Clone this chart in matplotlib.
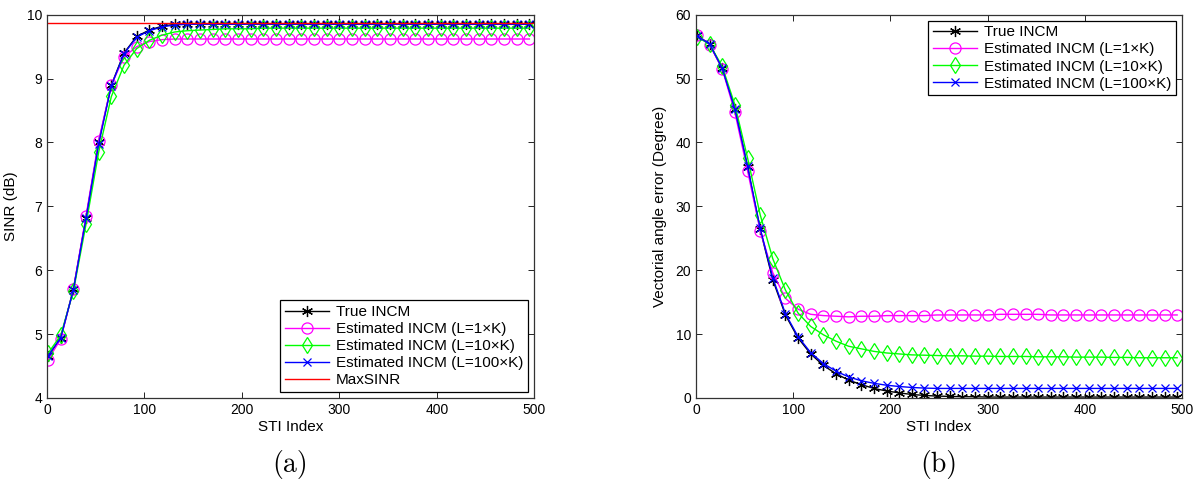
import matplotlib
matplotlib.use("Agg")
import matplotlib.pyplot as plt

plt.rcParams["font.family"] = ["Liberation Sans", "DejaVu Sans"]

# STI index of the plotted points (every 13th snapshot)
sti = [1, 14, 27, 40, 53, 66, 79, 92, 105, 118, 131, 144, 157, 170, 183, 196, 209,
       222, 235, 248, 261, 274, 287, 300, 313, 326, 339, 352, 365, 378, 391, 404,
       417, 430, 443, 456, 469, 482, 495]

# ---- (a) SINR (dB) ----
sinr_true = [4.65, 4.94, 5.70, 6.82, 8.00, 8.90, 9.40, 9.66, 9.76, 9.82, 9.85, 9.86, 9.86,
             9.86, 9.86, 9.86, 9.86, 9.86, 9.86, 9.86, 9.86, 9.86, 9.86, 9.86, 9.86, 9.86,
             9.86, 9.86, 9.86, 9.86, 9.86, 9.86, 9.86, 9.86, 9.86, 9.86, 9.86, 9.86, 9.86]
sinr_l1 = [4.60, 4.92, 5.70, 6.85, 8.03, 8.90, 9.34, 9.50, 9.58, 9.61, 9.62, 9.62, 9.62,
           9.62, 9.62, 9.62, 9.62, 9.62, 9.62, 9.62, 9.62, 9.62, 9.62, 9.62, 9.62, 9.62,
           9.62, 9.62, 9.62, 9.62, 9.62, 9.62, 9.62, 9.62, 9.62, 9.62, 9.62, 9.62, 9.62]
sinr_l10 = [4.70, 4.98, 5.67, 6.72, 7.85, 8.72, 9.21, 9.47, 9.60, 9.68, 9.73, 9.75, 9.76,
            9.77, 9.78, 9.78, 9.78, 9.79, 9.79, 9.79, 9.79, 9.79, 9.79, 9.79, 9.79, 9.79,
            9.79, 9.79, 9.79, 9.79, 9.79, 9.79, 9.79, 9.79, 9.79, 9.79, 9.79, 9.79, 9.79]
sinr_l100 = [4.66, 4.94, 5.69, 6.81, 7.98, 8.89, 9.39, 9.65, 9.75, 9.81, 9.84, 9.85, 9.85,
             9.85, 9.85, 9.85, 9.85, 9.85, 9.85, 9.85, 9.85, 9.85, 9.85, 9.85, 9.85, 9.85,
             9.85, 9.85, 9.85, 9.85, 9.85, 9.85, 9.85, 9.85, 9.85, 9.85, 9.85, 9.85, 9.85]
max_sinr = 9.875

# ---- (b) vectorial angle error (degree) ----
ang_true = [56.8, 55.4, 51.6, 45.3, 36.2, 26.4, 18.5, 13.0, 9.4, 6.9, 5.1, 3.8, 2.8,
            2.1, 1.5, 1.1, 0.8, 0.55, 0.4, 0.3, 0.25, 0.2, 0.2, 0.15, 0.15, 0.15, 0.15,
            0.15, 0.15, 0.15, 0.15, 0.15, 0.15, 0.15, 0.15, 0.15, 0.15, 0.15, 0.15]
ang_l1 = [56.8, 55.3, 51.5, 44.7, 35.6, 26.2, 19.6, 15.6, 13.9, 13.1, 12.9, 12.8, 12.7,
          12.8, 12.8, 12.9, 12.9, 12.9, 12.9, 13.0, 13.0, 13.0, 13.0, 13.0, 13.1, 13.1,
          13.1, 13.1, 13.0, 13.0, 13.0, 13.0, 13.0, 13.0, 13.0, 13.0, 13.0, 13.0, 13.0]
ang_l10 = [56.5, 55.4, 51.9, 45.9, 37.6, 28.7, 21.8, 16.9, 13.3, 11.2, 9.9, 8.9, 8.1,
           7.7, 7.3, 7.05, 6.9, 6.75, 6.7, 6.65, 6.6, 6.6, 6.55, 6.55, 6.5, 6.5, 6.5,
           6.45, 6.45, 6.45, 6.4, 6.4, 6.4, 6.35, 6.35, 6.3, 6.3, 6.3, 6.3]
ang_l100 = [56.7, 55.4, 51.6, 45.2, 36.3, 26.6, 18.8, 13.2, 9.6, 7.1, 5.4, 4.2, 3.3,
            2.7, 2.3, 2.0, 1.8, 1.65, 1.55, 1.5, 1.5, 1.5, 1.5, 1.5, 1.5, 1.5, 1.5, 1.5,
            1.5, 1.5, 1.5, 1.5, 1.5, 1.5, 1.5, 1.5, 1.5, 1.5, 1.5]

LABELS = ["True INCM", "Estimated INCM (L=1\u00d7K)", "Estimated INCM (L=10\u00d7K)",
          "Estimated INCM (L=100\u00d7K)"]
# matlab-ish markers: asterisk, open circle, open diamond, cross
STYLE = [dict(color="k", marker=(6, 2, 0), ms=8),
         dict(color="#ff00ff", marker="o", ms=8, mfc="none"),
         dict(color="#00ff00", marker="d", ms=8, mfc="none"),
         dict(color="#0000ff", marker="x", ms=5.5)]


def setup(ax, ylim, yticks, ylabel):
    ax.set_xlim(0, 500); ax.set_ylim(*ylim)
    ax.set_xticks([0, 100, 200, 300, 400, 500]); ax.set_yticks(yticks)
    ax.tick_params(direction="in", top=True, right=True, labelsize=10, length=4, width=0.6)
    for s in ax.spines.values():
        s.set_linewidth(0.9); s.set_color("#333333")
    ax.set_xlabel("STI Index", fontsize=11, labelpad=2)
    ax.set_ylabel(ylabel, fontsize=11, labelpad=6)


def legend(ax, loc):
    lg = ax.legend(loc=loc, fontsize=11, numpoints=1, fancybox=False, edgecolor="k",
                   framealpha=1, borderaxespad=0.4, handlelength=2.9, handletextpad=0.45,
                   labelspacing=0.2, borderpad=0.3)
    lg.get_frame().set_linewidth(0.9)
    return lg


fig = plt.figure(figsize=(12, 5.01), dpi=100)
axa = fig.add_axes([0.0392, 0.2056, 0.406, 0.765])
axb = fig.add_axes([0.58, 0.2056, 0.405, 0.765])

for ys, lab, st in zip([sinr_true, sinr_l1, sinr_l10, sinr_l100], LABELS, STYLE):
    axa.plot(sti, ys, lw=1.0, label=lab, mew=0.9, **st)
axa.axhline(max_sinr, color="#ff0000", lw=1.0, label="MaxSINR")
setup(axa, (4, 10), [4, 5, 6, 7, 8, 9, 10], "SINR (dB)")
legend(axa, "lower right")

for ys, lab, st in zip([ang_true, ang_l1, ang_l10, ang_l100], LABELS, STYLE):
    axb.plot(sti, ys, lw=1.0, label=lab, mew=0.9, **st)
setup(axb, (0, 60), [0, 10, 20, 30, 40, 50, 60], "Vectorial angle error (Degree)")
legend(axb, "upper right")

fig.text(0.2417, 0.072, "(a)", fontname="cmr10", fontsize=20, ha="center", va="center")
fig.text(0.7825, 0.072, "(b)", fontname="cmr10", fontsize=20, ha="center", va="center")

fig.savefig("out.png", dpi=100)
